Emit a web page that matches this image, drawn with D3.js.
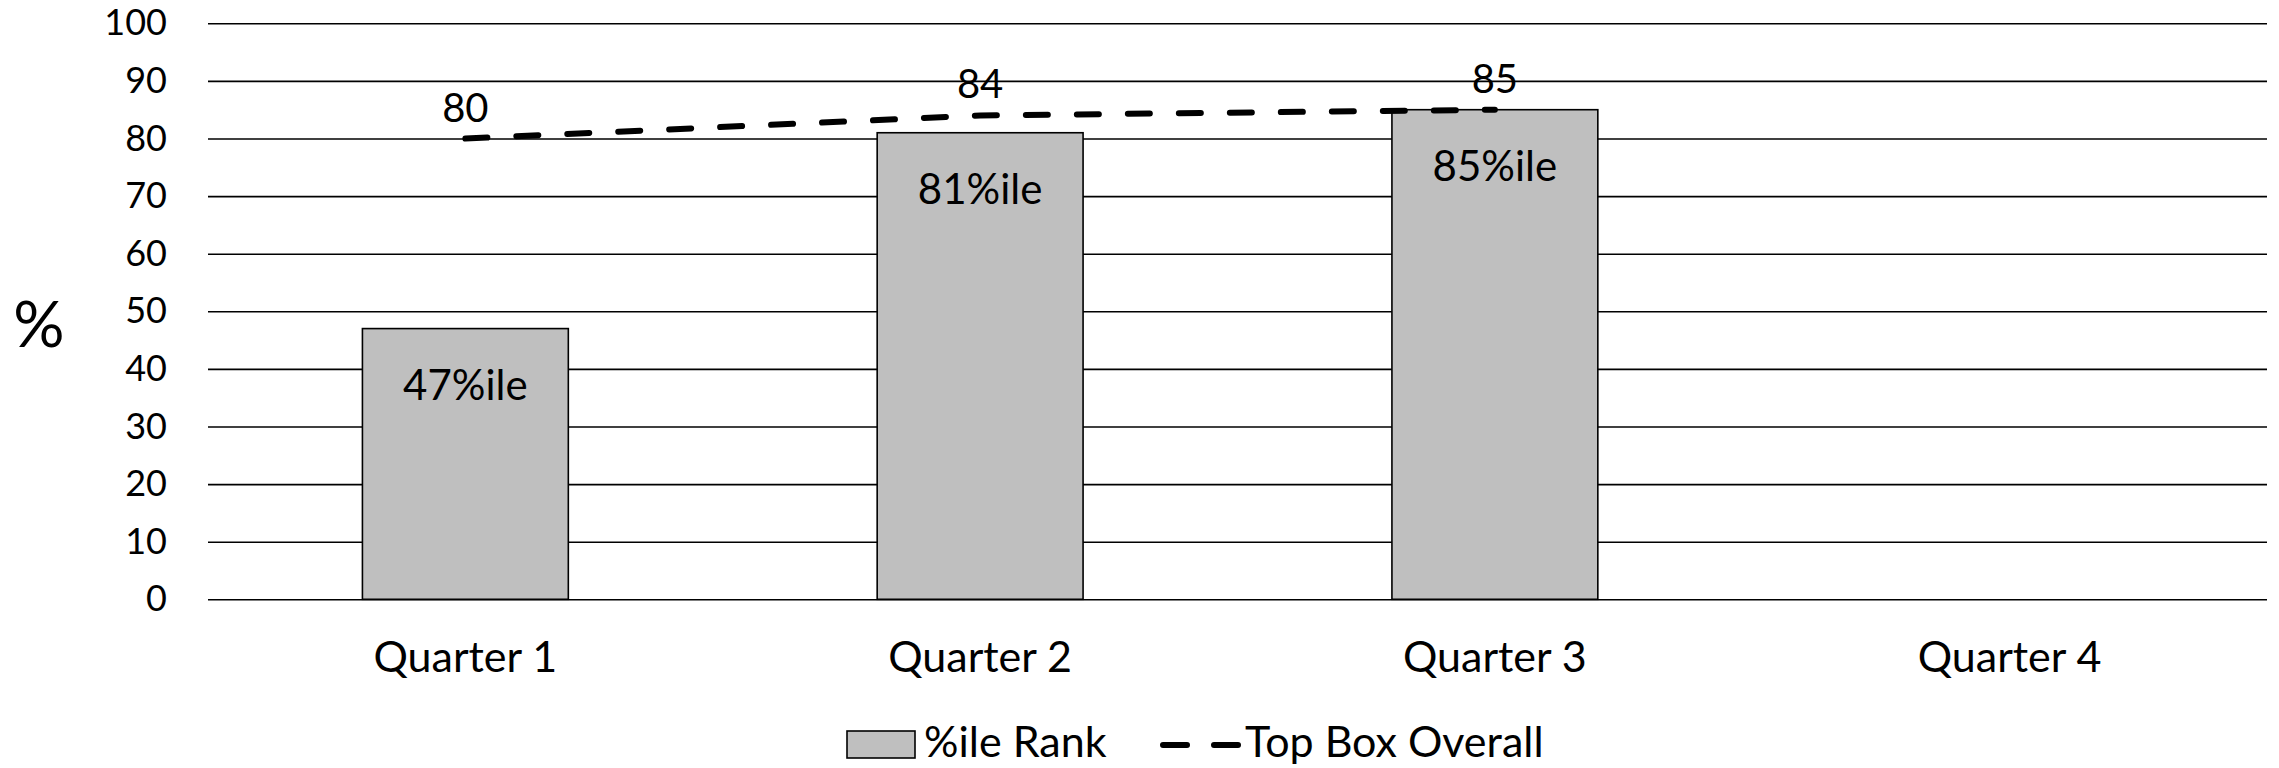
<!DOCTYPE html>
<meta charset="utf-8">
<script src="https://d3js.org/d3.v7.min.js"></script>
<style>
body { margin: 0; background: #fff; }
text { font-family: Lato, "Open Sans", sans-serif; fill: #000; }
</style>
<body>
</body>
<script>

// chart values
var quarters = ["Quarter 1", "Quarter 2", "Quarter 3", "Quarter 4"];
var rankValues = [47, 81, 85, null];     // %ile Rank bars
var topBoxValues = [80, 84, 85, null];   // Top Box Overall line
var yTicks = [0, 10, 20, 30, 40, 50, 60, 70, 80, 90, 100];
var seriesNames = ["%ile Rank", "Top Box Overall"];

var width = 2279, height = 768;
// note: "top" is a reserved window property, so use plot* names
var plotLeft = 208, plotRight = 2267, plotTop = 23.3, plotBottom = 599.3;

var svg = d3.select("body").append("svg")
  .attr("width", width)
  .attr("height", height);

var x = d3.scaleBand()
  .domain(quarters)
  .range([plotLeft, plotRight])
  .paddingInner(0.6)
  .paddingOuter(0.3);

var y = d3.scaleLinear()
  .domain([0, 100])
  .range([plotBottom, plotTop]);

// gridlines + y tick labels
var yAxis = d3.axisLeft(y)
  .tickValues(yTicks)
  .tickSize(-(plotRight - plotLeft))
  .tickPadding(41);

var yg = svg.append("g")
  .attr("transform", "translate(" + plotLeft + ",0)")
  .call(yAxis);
yg.select(".domain").remove();
yg.selectAll(".tick line").attr("stroke", "#000").attr("stroke-width", 1.6);
yg.selectAll(".tick text")
  .style("font-family", "Lato, sans-serif")
  .style("font-size", "36px")
  .attr("fill", "#000");

// y title
svg.append("text")
  .attr("x", 39)
  .attr("y", 324)
  .attr("text-anchor", "middle")
  .attr("dy", "0.36em")
  .style("font-size", "64px")
  .text("%");

// x labels
var xAxis = d3.axisBottom(x).tickSize(0).tickPadding(42);
var xg = svg.append("g")
  .attr("transform", "translate(0," + plotBottom + ")")
  .call(xAxis);
xg.select(".domain").remove();
xg.selectAll(".tick text")
  .style("font-family", "Lato, sans-serif")
  .style("font-size", "43px")
  .attr("fill", "#000");

// bars
var barData = quarters.map(function(q, i) { return { q: q, v: rankValues[i] }; })
  .filter(function(d) { return d.v != null; });

svg.selectAll(".bar")
  .data(barData).enter().append("rect")
  .attr("class", "bar")
  .attr("x", function(d) { return x(d.q); })
  .attr("y", function(d) { return y(d.v); })
  .attr("width", x.bandwidth())
  .attr("height", function(d) { return y(0) - y(d.v); })
  .attr("fill", "#bfbfbf")
  .attr("stroke", "#000")
  .attr("stroke-width", 1.6);

svg.selectAll(".barLabel")
  .data(barData).enter().append("text")
  .attr("class", "barLabel")
  .attr("x", function(d) { return x(d.q) + x.bandwidth() / 2; })
  .attr("y", function(d) { return y(d.v) + 71; })
  .attr("text-anchor", "middle")
  .style("font-size", "42px")
  .text(function(d) { return d.v + "%ile"; });

// line
var lineData = quarters.map(function(q, i) { return { q: q, v: topBoxValues[i] }; })
  .filter(function(d) { return d.v != null; });

var line = d3.line()
  .x(function(d) { return x(d.q) + x.bandwidth() / 2; })
  .y(function(d) { return y(d.v); });

svg.append("path")
  .datum(lineData)
  .attr("d", line)
  .attr("fill", "none")
  .attr("stroke", "#000")
  .attr("stroke-width", 6)
  .attr("stroke-linecap", "round")
  .attr("stroke-dasharray", "22 29");

svg.selectAll(".lineLabel")
  .data(lineData).enter().append("text")
  .attr("class", "lineLabel")
  .attr("x", function(d) { return x(d.q) + x.bandwidth() / 2; })
  .attr("y", function(d) { return y(d.v) - 17; })
  .attr("text-anchor", "middle")
  .style("font-size", "40px")
  .text(function(d) { return d.v; });

// legend
var lg = svg.append("g").attr("transform", "translate(847,745)");
lg.append("rect")
  .attr("x", 0).attr("y", -14)
  .attr("width", 68).attr("height", 27)
  .attr("fill", "#bfbfbf")
  .attr("stroke", "#000")
  .attr("stroke-width", 1.6);
lg.append("text")
  .attr("x", 77).attr("y", 12)
  .style("font-size", "43px")
  .text(seriesNames[0]);
lg.append("line")
  .attr("x1", 316).attr("x2", 395)
  .attr("y1", 0).attr("y2", 0)
  .attr("stroke", "#000")
  .attr("stroke-width", 6)
  .attr("stroke-linecap", "round")
  .attr("stroke-dasharray", "24 27");
lg.append("text")
  .attr("x", 398).attr("y", 12)
  .style("font-size", "43px")
  .text(seriesNames[1]);

</script>
